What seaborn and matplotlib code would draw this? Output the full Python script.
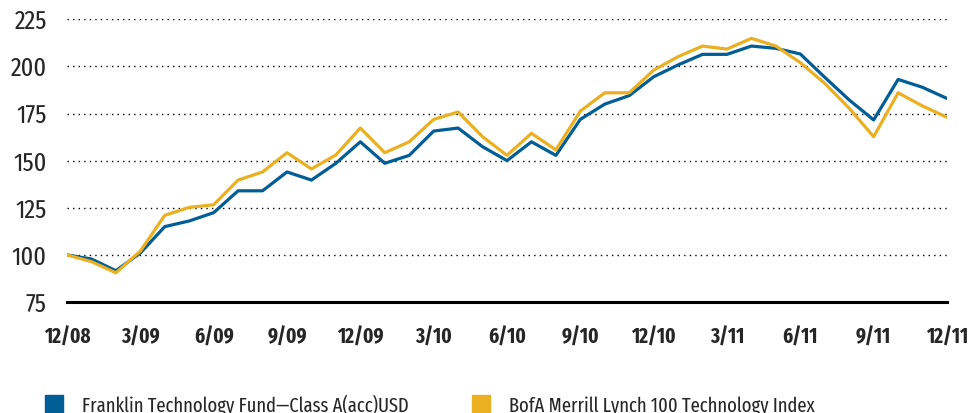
import matplotlib
matplotlib.use("Agg")
import matplotlib.pyplot as plt
from matplotlib import font_manager
from matplotlib.font_manager import FontProperties
from matplotlib.lines import Line2D
import numpy as np
import pandas as pd
import seaborn as sns

# monthly values, 12/08 .. 12/11 (rebased to 100)
months = ['12/08', '1/09', '2/09', '3/09', '4/09', '5/09', '6/09', '7/09', '8/09', '9/09',
          '10/09', '11/09', '12/09', '1/10', '2/10', '3/10', '4/10', '5/10', '6/10', '7/10',
          '8/10', '9/10', '10/10', '11/10', '12/10', '1/11', '2/11', '3/11', '4/11', '5/11',
          '6/11', '7/11', '8/11', '9/11', '10/11', '11/11', '12/11']
fund = [100, 97.8, 91.6, 101, 115, 118, 122.4, 134, 134, 144,
        139.7, 148.6, 160, 148.6, 152.8, 165.7, 167.3, 157.4, 150, 160,
        152.8, 171.9, 180, 184.5, 194.5, 200.8, 206.4, 206.4, 210.8, 209.6,
        206.6, 194.2, 182.2, 171.6, 193.1, 188.9, 183]
index = [100, 96.4, 90.5, 102, 121, 125.2, 126.6, 139.7, 144, 154.2,
         145.6, 153, 167.3, 154.2, 160, 171.9, 175.8, 162.7, 152.8, 164.5,
         155.7, 176.3, 186, 186, 198, 205.2, 210.8, 209.2, 214.9, 210.8,
         202, 191, 177.8, 162.7, 186, 179, 173]
series_names = ['Franklin Technology Fund\u2014Class A(acc)USD', 'BofA Merrill Lynch 100 Technology Index']
tick_labels = ['12/08', '3/09', '6/09', '9/09', '12/09', '3/10', '6/10', '9/10', '12/10',
               '3/11', '6/11', '9/11', '12/11']
colors = ['#005D96', '#EBB021']

df = pd.DataFrame({
    'month': list(range(len(months))) * 2,
    'value': fund + index,
    'series': [series_names[0]] * len(fund) + [series_names[1]] * len(index),
})

sns.set_style("white")
plt.rcParams['font.family'] = ['DejaVu Sans']


# look for a narrow sans font file (regular and bold), extra condensed first
def find_condensed(bold):
    best = None
    for f in font_manager.fontManager.ttflist:
        p = f.fname.lower()
        if not ('condensed' in p or 'narrow' in p):
            continue
        if 'mono' in p or 'serif' in f.name.lower() or 'semi' in p or 'ultra' in p:
            continue
        if 'italic' in p or 'oblique' in p or f.style != 'normal':
            continue
        w = f.weight if isinstance(f.weight, int) else (700 if 'bold' in str(f.weight) else 400)
        if bold and w != 700:
            continue
        if not bold and w != 400:
            continue
        rank = 0 if 'extracondensed' in p.replace('-', '').replace('_', '') else 1
        if best is None or rank < best[0]:
            best = (rank, f.fname)
    return best if best else (None, None)


reg_rank, reg_path = find_condensed(False)
bold_rank, bold_path = find_condensed(True)


def fprop(size, bold=False):
    rank, path = (bold_rank, bold_path) if bold else (reg_rank, reg_path)
    if path:
        return FontProperties(fname=path, size=size * (1.0 if rank == 0 else 0.85))
    return FontProperties(family='DejaVu Sans', size=size * 0.75,
                          weight='bold' if bold else 'normal')


fig = plt.figure(figsize=(9.71, 4.13), dpi=100)
ax = fig.add_axes([67 / 971, 1 - 302 / 413, 880 / 971, (302 - 19.3) / 413])

sns.lineplot(data=df, x='month', y='value', hue='series', palette=colors,
             linewidth=2.3, ax=ax, legend=False)

ax.set_xlim(0, 36)
ax.set_ylim(75, 225)
ax.set_xticks(range(0, 37, 3))
ax.set_xticklabels(tick_labels)
ax.set_yticks(range(75, 226, 25))
ax.tick_params(axis='y', length=0, pad=14.5)
ax.tick_params(axis='x', length=0, pad=18)
for lbl in ax.get_xticklabels():
    lbl.set_fontproperties(fprop(15, bold=True))
for lbl in ax.get_yticklabels():
    lbl.set_fontproperties(fprop(19))
ax.set_xlabel('')
ax.set_ylabel('')
for y in range(100, 226, 25):
    ax.axhline(y, color='black', linestyle=(0, (1, 3)), linewidth=1.0, zorder=0)
for s in ['left', 'right', 'top']:
    ax.spines[s].set_visible(False)
ax.spines['bottom'].set_linewidth(2.2)
ax.spines['bottom'].set_color('black')

handles = [Line2D([], [], marker='s', linestyle='none', markersize=12.5, color=c) for c in colors]
fig.legend(handles, series_names, loc='upper left', bbox_to_anchor=(33.5 / 971, 1 - 384 / 413),
           ncol=2, frameon=False, prop=fprop(14.5), handletextpad=0.9, columnspacing=3.1,
           borderpad=0, handlelength=1.0)

fig.savefig('out.png', dpi=100)
